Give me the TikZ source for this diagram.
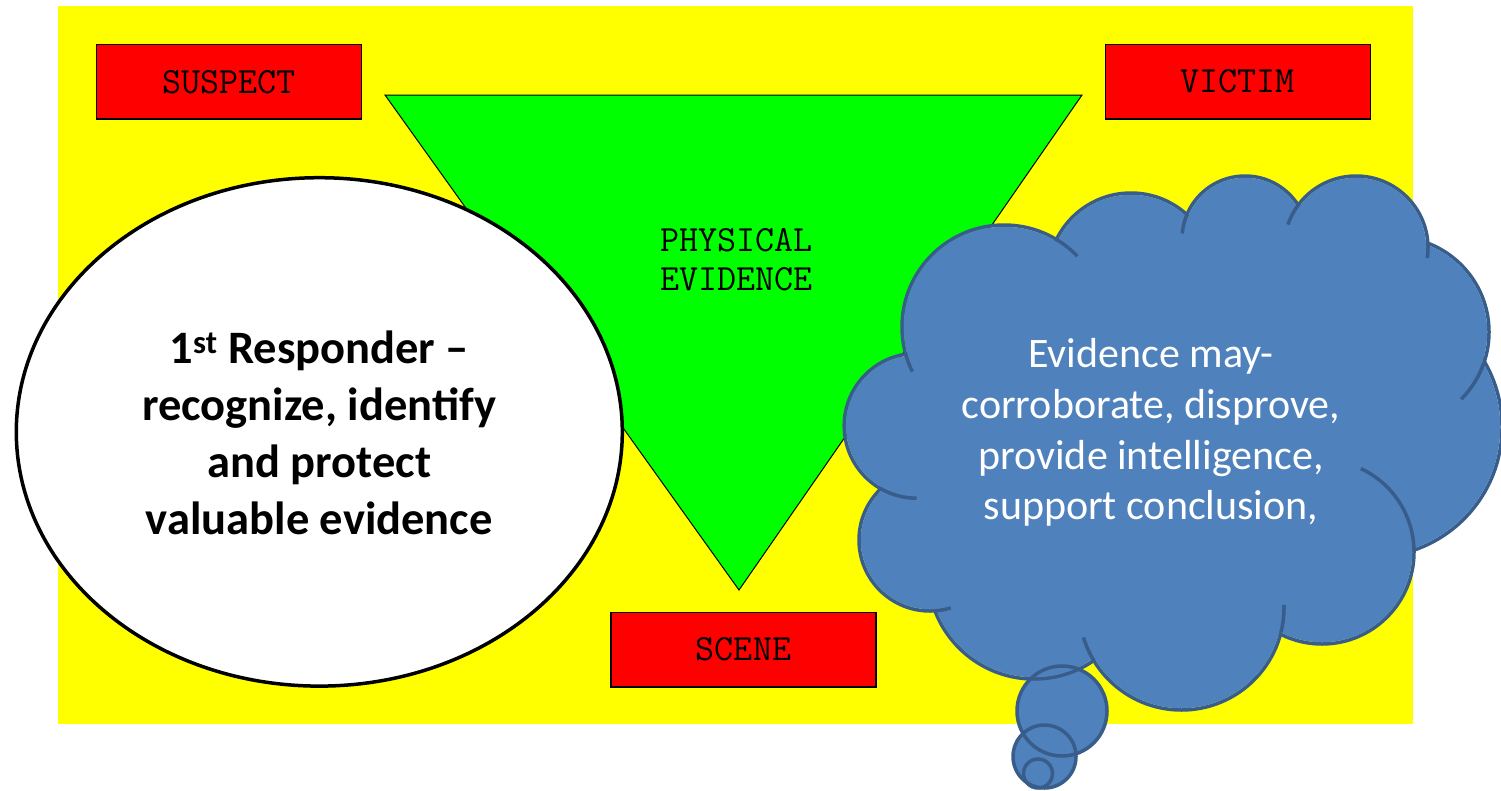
\documentclass[tikz,border=0pt]{standalone}
\usepackage{fontspec}
\newfontfamily\calibri{Carlito}
\definecolor{cloudfill}{HTML}{4F81BD}
\definecolor{cloudline}{HTML}{385D8A}
\definecolor{bgyellow}{HTML}{FFFF00}
\definecolor{boxred}{HTML}{FF0000}
\definecolor{trigreen}{HTML}{00FF00}
\begin{document}
\begin{tikzpicture}[x=1pt,y=-1pt,
  redbox/.style={draw=black, line width=1.5pt, fill=boxred, minimum width=265pt, minimum height=74.5pt, inner sep=0pt,
    font=\fontsize{37}{37}\selectfont\ttfamily, text=black},
  ttlabel/.style={font=\fontsize{37}{37}\selectfont\ttfamily, text=black, anchor=base, inner sep=0pt},
  resptext/.style={font=\calibri\bfseries\fontsize{46.5}{57}\selectfont, text=black, anchor=base, inner sep=0pt},
  cloudtext/.style={font=\calibri\fontsize{42}{51}\selectfont, text=white, anchor=base, inner sep=0pt},
  cloudedge/.style={draw=cloudline, line width=3.5pt},
  stub/.style={cloudline, line width=3.5pt}]
\useasboundingbox (0,0) rectangle (1501,790);
% background
\fill[bgyellow] (58,6) rectangle (1413,724);
% boxes
\node[redbox] (suspect) at (228.75,81.75) {SUSPECT};
\node[redbox] (victim) at (1237.75,81.5) {VICTIM};
\node[redbox] (scene) at (743.5,649.5) {SCENE};
% triangle
\draw[fill=trigreen, draw=black, line width=1pt] (385,95) -- (1082,95) -- (739,590) -- cycle;
\node[ttlabel] (phys1) at (736.5,251.7) {PHYSICAL};
\node[ttlabel] (phys2) at (736.5,290.7) {EVIDENCE};
% ellipse
\draw[fill=white, draw=black, line width=3.5pt] (319.3,431.9) ellipse[x radius=303pt, y radius=254.2pt];
\node[resptext] (r1) at (319.3,363) {1\textsuperscript{st} Responder –};
\node[resptext] (r2) at (319.3,420) {recognize, identify};
\node[resptext] (r3) at (319.3,477) {and protect};
\node[resptext] (r4) at (319.3,534) {valuable evidence};
% cloud: tail fill
\fill[cloudfill] (1062,711) circle[radius=45pt] (1044.5,756.5) circle[radius=31.5pt] (1038,773.5) circle[radius=14.5pt];
% cloud lobes outline
\foreach \cx/\cy/\r in {1004/327/102, 1131/276/83, 1245/239/63, 1356/248/72, 1394/332/95, 1372/427/130,
  1322/552/92, 1181.5/607.5/102.5, 1034/573/106, 930/540/71, 916.6/425.8/72.4}
  \draw[cloudline, line width=3.5pt] (\cx,\cy) circle[radius=\r pt];
\foreach \cx/\cy/\r in {1004/327/102, 1131/276/83, 1245/239/63, 1356/248/72, 1394/332/95, 1372/427/130,
  1322/552/92, 1181.5/607.5/102.5, 1034/573/106, 930/540/71, 916.6/425.8/72.4}
  \fill[cloudfill] (\cx,\cy) circle[radius=\r pt-1.75pt];
\fill[cloudfill] (921.1,357.8) -- (1065,242.8) -- (1185.7,224.8) -- (1293,214.3) -- (1414.7,252.3)
  -- (1469.8,367.3) -- (1403.7,543.6) -- (1275.6,622.5) -- (1097.3,648.8) -- (947.2,601.9) -- (895,485.4) -- cycle;
% cloud inner stubs
\draw[stub] (1004,327) ++(60:102pt) arc[start angle=60, end angle=44, radius=102pt];
\draw[stub] (1004,327) ++(195:102pt) arc[start angle=195, end angle=206, radius=102pt];
\draw[stub] (1245,239) ++(157:63pt) arc[start angle=157, end angle=175, radius=63pt];
\draw[stub] (1356,248) ++(142:72pt) arc[start angle=142, end angle=161, radius=72pt];
\draw[stub] (1356,248) ++(4:72pt) arc[start angle=4, end angle=-8, radius=72pt];
\draw[stub] (1394,332) ++(-19:95pt) arc[start angle=-19, end angle=-45, radius=95pt];
\draw[stub] (1322,552) ++(1.5:92pt) arc[start angle=1.5, end angle=65, radius=92pt];
\draw[stub] (1181.5,607.5) ++(-14:102.5pt) arc[start angle=-14, end angle=1.5, radius=102.5pt];
\draw[stub] (1181.5,607.5) ++(211:102.5pt) arc[start angle=211, end angle=197, radius=102.5pt];
\draw[stub] (930,540) ++(-86:71pt) arc[start angle=-86, end angle=-73, radius=71pt];
\draw[stub] (916.6,425.8) ++(240:72.4pt) arc[start angle=240, end angle=270, radius=72.4pt];
% tail outlines
\draw[stub] (1062,711) circle[radius=45pt];
\draw[stub] (1044.5,756.5) circle[radius=31.5pt];
\draw[stub] (1038,773.5) circle[radius=14.5pt];
% cloud text
\node[cloudtext] (c1) at (1151,367.5) {Evidence may-};
\node[cloudtext] (c2) at (1151,418.3) {corroborate, disprove,};
\node[cloudtext] (c3) at (1151,469.1) {provide intelligence,};
\node[cloudtext] (c4) at (1151,519.9) {support conclusion,};
\end{tikzpicture}
\end{document}
